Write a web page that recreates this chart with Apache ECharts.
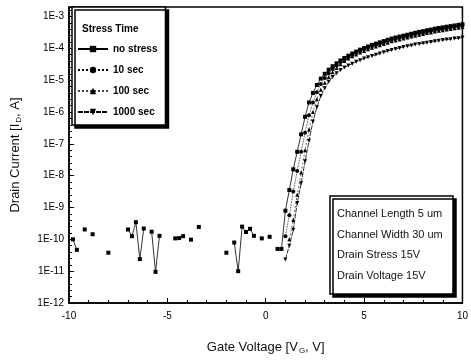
<!DOCTYPE html>
<html>
<head>
<meta charset="utf-8">
<script src="https://cdn.jsdelivr.net/npm/echarts@6/dist/echarts.min.js"></script>
<style>
  html, body { margin: 0; padding: 0; background: #fff; }
  #chart { width: 471px; height: 360px; }
</style>
</head>
<body>
<div id="chart"></div>
<script>
// off-state noise (no stress), log10(I_D); null = point not plotted (breaks the line)
const vgOff = [-9.8,-9.6,-9.4,-9.2,-9.0,-8.8,-8.6,-8.0,-7.8,-7.0,-6.8,-6.6,-6.4,-6.2,-6.0,-5.8,-5.6,-5.4,-5.2,
  -4.6,-4.4,-4.2,-4.0,-3.8,-3.6,-3.4,-3.2,-2.0,-1.8,-1.6,-1.4,-1.2,-1.0,-0.8,-0.6,-0.4,-0.2,0.0,0.2,0.4];
const logOff = [-10.0,-10.33,null,-9.69,null,-9.84,null,-10.42,null,-9.69,-9.9,-9.46,-10.62,-9.66,null,-9.76,-11.02,-9.89,null,
  -9.97,-9.96,-9.9,null,-10.01,null,-9.61,null,-10.42,null,-10.1,-11.0,-9.6,-9.77,-9.67,-9.89,null,-9.97,null,-9.92,null];

// turn-on / on-state region
const vgOn = [0.6,0.8,1.0,1.2,1.4,1.6,1.8,2.0,2.2,2.4,2.6,2.8,3.0,3.2,3.4,3.6,3.8,4.0,4.2,4.4,4.6,4.8,5.0,
  5.2,5.4,5.6,5.8,6.0,6.2,6.4,6.6,6.8,7.0,7.2,7.4,7.6,7.8,8.0,8.2,8.4,8.6,8.8,9.0,9.2,9.4,9.6,9.8,10.0];
const logNoStress = [-10.3,-10.3,-9.1,-8.45,-7.8,-7.25,-6.7,-6.15,-5.7,-5.4,-5.15,-4.95,-4.8,
  -4.67,-4.56,-4.47,-4.38,-4.3,-4.23,-4.16,-4.1,-4.04,-3.99,-3.94,-3.89,-3.85,-3.81,-3.77,-3.73,-3.69,-3.66,
  -3.63,-3.6,-3.57,-3.54,-3.51,-3.48,-3.46,-3.43,-3.41,-3.38,-3.36,-3.34,-3.32,-3.3,-3.28,-3.26,-3.24];
const log10s = [null,null,-9.9,-9.24,-8.5,-7.85,-7.25,-6.65,-6.1,-5.7,-5.38,-5.12,-4.93,-4.78,-4.65,-4.54,-4.43,
  -4.34,-4.27,-4.2,-4.14,-4.08,-4.03,-3.98,-3.93,-3.89,-3.85,-3.81,-3.77,-3.73,-3.7,-3.67,-3.64,-3.61,-3.58,
  -3.55,-3.52,-3.5,-3.47,-3.45,-3.42,-3.4,-3.38,-3.36,-3.34,-3.32,-3.3,-3.28];
const log100s = [null,null,null,-10.0,-9.39,-8.6,-7.9,-7.2,-6.55,-6.0,-5.6,-5.3,-5.08,-4.9,-4.75,-4.62,-4.5,
  -4.4,-4.32,-4.25,-4.19,-4.13,-4.08,-4.03,-3.98,-3.94,-3.9,-3.86,-3.82,-3.78,-3.75,-3.72,-3.69,-3.66,-3.63,
  -3.6,-3.57,-3.55,-3.52,-3.5,-3.47,-3.45,-3.43,-3.41,-3.39,-3.37,-3.35,-3.33];
const log1000s = [null,null,-10.63,-10.2,-9.7,-8.86,-8.24,-7.55,-6.9,-6.3,-5.85,-5.5,-5.25,-5.05,-4.9,-4.78,-4.68,
  -4.6,-4.54,-4.48,-4.42,-4.37,-4.32,-4.28,-4.24,-4.2,-4.16,-4.12,-4.08,-4.05,-4.02,-3.99,-3.96,-3.93,-3.91,
  -3.88,-3.86,-3.84,-3.82,-3.8,-3.78,-3.76,-3.74,-3.72,-3.71,-3.69,-3.68,-3.66];

const seriesNames = ['no stress', '10 sec', '100 sec', '1000 sec'];
const infoLines = ['Channel Length 5 um', 'Channel Width 30 um', 'Drain Stress 15V', 'Drain Voltage 15V'];

const pairs = (xs, ys) => xs.map((x, i) => [x, ys[i] == null ? '-' : ys[i]]);

const chart = echarts.init(document.getElementById('chart'));
const font = 'Liberation Sans';

const common = { type: 'line', symbolSize: 4, itemStyle: { color: '#000' }, animation: false };

chart.setOption({
  textStyle: { fontFamily: font },
  grid: { left: 69, right: 4, top: 7, bottom: 56, show: true, borderColor: '#000', borderWidth: 1.5 },
  title: [
    { text: 'Stress Time', left: 77, top: 19, textStyle: { fontSize: 10, fontWeight: 'bold', color: '#000', fontFamily: font } },
    {
      text: infoLines.join('\n'), left: 330, top: 196,
      padding: [8, 10, 8, 7],
      backgroundColor: '#fff', borderColor: '#000', borderWidth: 1.5,
      shadowColor: '#000', shadowBlur: 0, shadowOffsetX: 3, shadowOffsetY: 3,
      textStyle: { fontSize: 11, fontWeight: 'normal', color: '#111', lineHeight: 20.5, fontFamily: font }
    }
  ],
  legend: {
    orient: 'vertical', left: 72, top: 7,
    data: seriesNames,
    padding: [37, 8, 8, 5],
    itemGap: 11, itemWidth: 30, itemHeight: 8,
    backgroundColor: '#fff', borderColor: '#000', borderWidth: 1.5,
    shadowColor: '#000', shadowBlur: 0, shadowOffsetX: 3, shadowOffsetY: 3,
    textStyle: { fontSize: 10, fontWeight: 'bold', color: '#000', fontFamily: font }
  },
  xAxis: {
    type: 'value', min: -10, max: 10, interval: 5,
    name: 'Gate Voltage [V{s|G}, V]', nameLocation: 'middle', nameGap: 37,
    nameTextStyle: { fontSize: 13, color: '#111', fontFamily: font, rich: { s: { fontSize: 8, padding: [7, 0, 0, 1] } } },
    axisLine: { onZero: false, lineStyle: { color: '#000', width: 1.5 } },
    axisTick: { inside: true, length: 5, lineStyle: { color: '#000' } },
    minorTick: { show: true, splitNumber: 5, length: 3, lineStyle: { color: '#000' } },
    splitLine: { show: false },
    axisLabel: { fontSize: 10, color: '#000', margin: 8 }
  },
  yAxis: {
    type: 'value', min: -12, max: -2.7, interval: 1,
    name: 'Drain Current [I{s|D}, A]', nameLocation: 'middle', nameGap: 46,
    nameTextStyle: { fontSize: 13, color: '#111', fontFamily: font, rich: { s: { fontSize: 8, padding: [7, 0, 0, 1] } } },
    axisLine: { onZero: false, lineStyle: { color: '#000', width: 1.5 } },
    axisTick: { inside: true, length: 5, lineStyle: { color: '#000' } },
    minorTick: { show: true, splitNumber: 5, length: 3, lineStyle: { color: '#000' } },
    splitLine: { show: false },
    axisLabel: { fontSize: 10, color: '#000', margin: 5, showMaxLabel: false, formatter: v => '1E' + v }
  },
  series: [
    Object.assign({}, common, {
      name: seriesNames[0], symbol: 'rect',
      lineStyle: { color: '#000', width: 0.8 },
      data: pairs(vgOff, logOff).concat(pairs(vgOn, logNoStress))
    }),
    Object.assign({}, common, {
      name: seriesNames[1], symbol: 'circle',
      lineStyle: { color: '#000', width: 0.8, type: 'dotted' },
      data: pairs(vgOn, log10s)
    }),
    Object.assign({}, common, {
      name: seriesNames[2], symbol: 'triangle',
      lineStyle: { color: '#444', width: 0.8, type: [2, 2] },
      data: pairs(vgOn, log100s)
    }),
    Object.assign({}, common, {
      name: seriesNames[3], symbol: 'triangle', symbolRotate: 180,
      lineStyle: { color: '#000', width: 0.8, type: [5, 1] },
      data: pairs(vgOn, log1000s)
    })
  ]
});
</script>
</body>
</html>
